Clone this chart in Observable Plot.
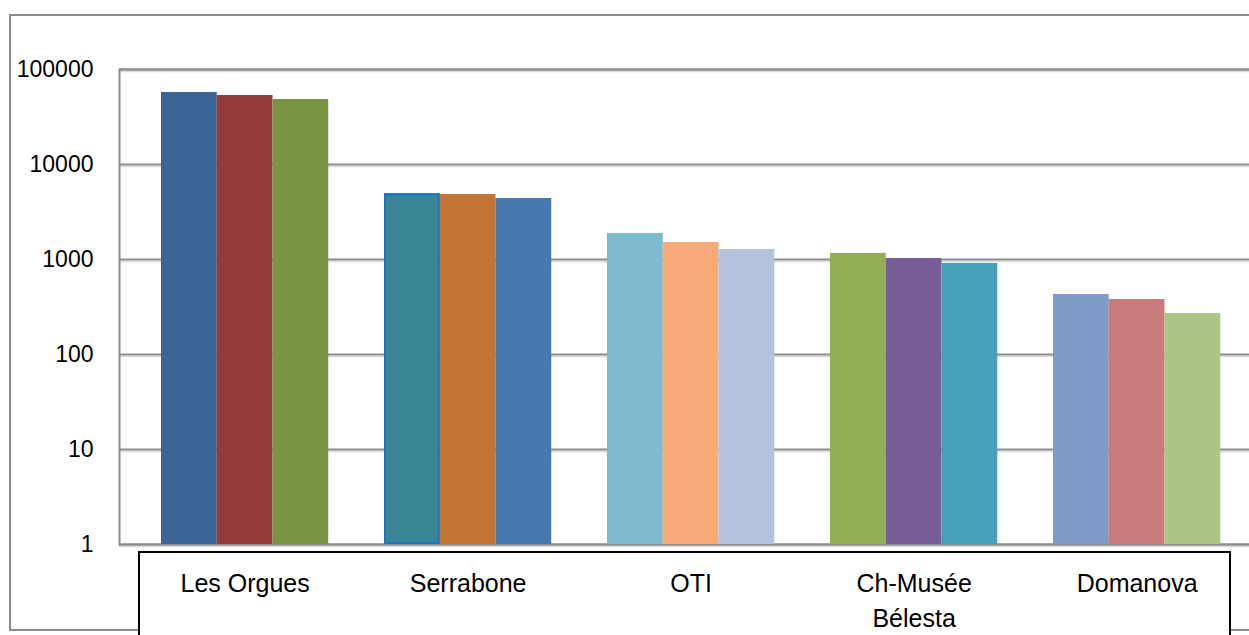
<!DOCTYPE html>
<html>
<head>
<meta charset="utf-8">
<script src="https://cdn.jsdelivr.net/npm/d3@7"></script>
<script src="https://cdn.jsdelivr.net/npm/@observablehq/plot@0.6"></script>
<style>
html, body { margin: 0; padding: 0; background: #fff; overflow: hidden; }
#wrap { position: relative; width: 1249px; height: 635px; overflow: hidden; }
#outer { position: absolute; box-sizing: border-box; left: 9px; top: 14px; right: -10px; bottom: 4px; border: 2px solid #8c8c8c; }
#labelbox { position: absolute; box-sizing: border-box; left: 138px; top: 551px; width: 1093px; bottom: -10px; border: 2px solid #000; background: #fff; }
#chart { position: absolute; left: 0; top: 0; }
</style>
</head>
<body>
<div id="wrap">
  <div id="outer"></div>
  <div id="labelbox"></div>
  <div id="chart"></div>
</div>
<script>
// ---- data ----
const categories = ["Les Orgues", "Serrabone", "OTI", "Ch-Musée Bélesta", "Domanova"];
const tickLabels = ["Les Orgues", "Serrabone", "OTI", "Ch-Musée\nBélesta", "Domanova"];
const series1 = [57300, 4920, 1880, 1160, 428];
const series2 = [53200, 4830, 1510, 1025, 379];
const series3 = [48300, 4390, 1275, 908, 270];
const yTicks = [1, 10, 100, 1000, 10000, 100000];
const barColors = [
  "#3c6496", "#953b3b", "#7a9446",
  "#398696", "#c37533", "#4878b0",
  "#7db9cf", "#f7aa79", "#b4c3dc",
  "#92af56", "#775d96", "#47a0b9",
  "#7f9bc7", "#c97c7b", "#adc584"
];

// ---- tables built from the arrays ----
const seriesList = [series1, series2, series3];
const rows = categories.flatMap((c, i) =>
  seriesList.map((s, j) => ({cat: c, si: j, key: `${i}-${j}`, value: s[i]}))
);
const barKeys = rows.map(d => d.key);
const xDomain = categories.flatMap((c, i) => {
  const keys = seriesList.map((s, j) => `${i}-${j}`);
  return i < categories.length - 1 ? [...keys, `gap${i}`] : keys;
});
const labelRows = categories.map((c, i) => ({key: `${i}-1`, label: tickLabels[i]}));

const chart = Plot.plot({
  width: 1249,
  height: 635,
  marginLeft: 119,
  marginRight: 0,
  marginTop: 69,
  marginBottom: 91,
  style: {
    background: "transparent",
    fontFamily: "'Liberation Sans', Arial, sans-serif",
    fontSize: "23px",
    color: "#000",
    overflow: "visible"
  },
  x: {type: "band", domain: xDomain, padding: 0, paddingOuter: 0.6345, align: 0.5936, round: false, axis: null},
  y: {
    type: "log",
    domain: [1, 100000],
    ticks: yTicks,
    tickFormat: d => String(d),
    tickSize: 0,
    tickPadding: 26,
    label: null
  },
  color: {type: "ordinal", domain: barKeys, range: barColors},
  marks: [
    Plot.ruleY(yTicks, {stroke: "#dcdcdc", strokeWidth: 1.5, dy: 2}),
    Plot.ruleY(yTicks, {stroke: "#8c8c8c", strokeWidth: 2}),
    Plot.frame({stroke: "#8c8c8c", strokeWidth: 2, insetRight: -6}),
    Plot.barY(rows, {x: "key", y1: 1, y2: "value", fill: "key"}),
    Plot.barY(rows.filter(d => d.cat === "Serrabone" && d.si === 0),
      {x: "key", y1: 1, y2: "value", fill: "none", stroke: "#1b74c0", strokeWidth: 2, inset: 1}),
    Plot.text(labelRows, {
      x: "key", text: "label", frameAnchor: "bottom", lineAnchor: "top",
      dy: 23, fontSize: 25, lineHeight: 1.4, fill: "#000"
    })
  ]
});
document.getElementById("chart").appendChild(chart);
</script>
</body>
</html>
